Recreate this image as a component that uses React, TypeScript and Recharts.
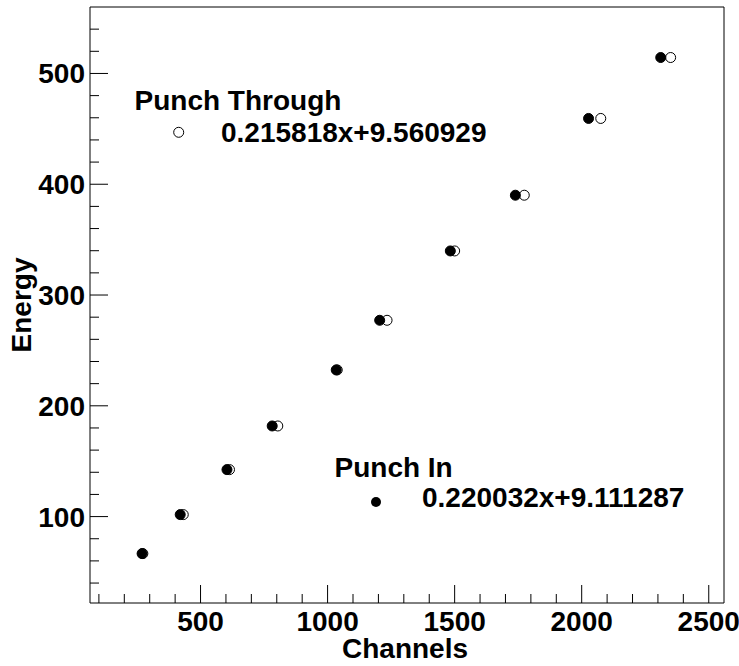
import React from "react";
import { ScatterChart, Scatter, XAxis, YAxis, ReferenceLine } from "recharts";

// energy calibration points
const ENERGY = [66.6, 101.8, 142.4, 181.8, 232.4, 277.2, 339.8, 390.1, 459.4, 514.4];
const PUNCH_IN_CH = [270, 420, 604, 782, 1034, 1205, 1483, 1739, 2027, 2311];
const PUNCH_THROUGH_CH = [273, 432, 614, 804, 1038, 1234, 1500, 1774, 2075, 2350];

const X_TICKS = [
  100, 200, 300, 400, 500, 600, 700, 800, 900, 1000, 1100, 1200, 1300,
  1400, 1500, 1600, 1700, 1800, 1900, 2000, 2100, 2200, 2300, 2400, 2500,
];
const X_LABELED = [500, 1000, 1500, 2000, 2500];
const Y_TICKS = [
  40, 60, 80, 100, 120, 140, 160, 180, 200, 220, 240, 260, 280, 300, 320,
  340, 360, 380, 400, 420, 440, 460, 480, 500, 520, 540,
];
const Y_LABELED = [100, 200, 300, 400, 500];

const X_DOMAIN: [number, number] = [65, 2560];
const Y_DOMAIN: [number, number] = [22, 560];

const FONT = "'Liberation Sans', Arial, Helvetica, sans-serif";
const FS = 28;

const punchIn = PUNCH_IN_CH.map((ch, i) => ({ ch, e: ENERGY[i] }));
const punchThrough = PUNCH_THROUGH_CH.map((ch, i) => ({ ch, e: ENERGY[i] }));

function XTick({ x, y, payload }: any) {
  const major = X_LABELED.includes(payload.value);
  return (
    <g>
      <line x1={x} x2={x} y1={y} y2={y - (major ? 18 : 9)} stroke="#000" strokeWidth={1} />
      {major && (
        <text x={x} y={y + 28} textAnchor="middle" fontFamily={FONT} fontWeight="bold" fontSize={FS} fill="#000">
          {payload.value}
        </text>
      )}
    </g>
  );
}

function YTick({ x, y, payload }: any) {
  const major = Y_LABELED.includes(payload.value);
  return (
    <g>
      <line x1={x} x2={x + (major ? 18 : 9)} y1={y} y2={y} stroke="#000" strokeWidth={1} />
      {major && (
        <text x={x - 5} y={y + 10} textAnchor="end" fontFamily={FONT} fontWeight="bold" fontSize={FS} fill="#000">
          {payload.value}
        </text>
      )}
    </g>
  );
}

const openDot = (p: any) => <circle cx={p.cx} cy={p.cy} r={5} fill="#fff" stroke="#000" strokeWidth={1} />;
const fullDot = (p: any) => <circle cx={p.cx} cy={p.cy} r={5} fill="#000" stroke="#000" strokeWidth={1} />;

export default function App() {
  const txt = { fontFamily: FONT, fontWeight: "bold" as const, fontSize: FS, fill: "#000" };
  return (
    <div style={{ position: "relative", width: 739, height: 666, background: "#fff" }}>
      <style>{"body{margin:0}"}</style>
      <ScatterChart width={739} height={666} margin={{ top: 7, right: 15, bottom: 0, left: 0 }}>
        <XAxis
          type="number"
          dataKey="ch"
          domain={X_DOMAIN}
          allowDataOverflow
          ticks={X_TICKS}
          interval={0}
          tickSize={0}
          tickMargin={0}
          tickLine={false}
          tick={<XTick />}
          height={63}
          axisLine={{ stroke: "#000", strokeWidth: 1 }}
        />
        <YAxis
          type="number"
          dataKey="e"
          domain={Y_DOMAIN}
          allowDataOverflow
          ticks={Y_TICKS}
          interval={0}
          tickSize={0}
          tickMargin={0}
          tickLine={false}
          tick={<YTick />}
          width={90}
          axisLine={{ stroke: "#000", strokeWidth: 1 }}
        />
        <ReferenceLine y={560} stroke="#000" strokeWidth={1} />
        <ReferenceLine x={2560} stroke="#000" strokeWidth={1} />
        <Scatter name="Punch Through" data={punchThrough} shape={openDot} isAnimationActive={false} />
        <Scatter name="Punch In" data={punchIn} shape={fullDot} isAnimationActive={false} />
      </ScatterChart>
      <svg width={739} height={666} style={{ position: "absolute", left: 0, top: 0, pointerEvents: "none" }}>
        <text x={405} y={658} textAnchor="middle" {...txt}>Channels</text>
        <text x={31} y={305} textAnchor="middle" transform="rotate(-90 31 305)" {...txt}>Energy</text>
        <text x={134.5} y={110} {...txt}>Punch Through</text>
        <circle cx={178.7} cy={132.3} r={5} fill="#fff" stroke="#000" strokeWidth={1} />
        <text x={221} y={141.7} {...txt}>0.215818x+9.560929</text>
        <text x={334.5} y={477} {...txt}>Punch In</text>
        <circle cx={376} cy={502} r={5} fill="#000" />
        <text x={422} y={506.7} {...txt}>0.220032x+9.111287</text>
      </svg>
    </div>
  );
}
